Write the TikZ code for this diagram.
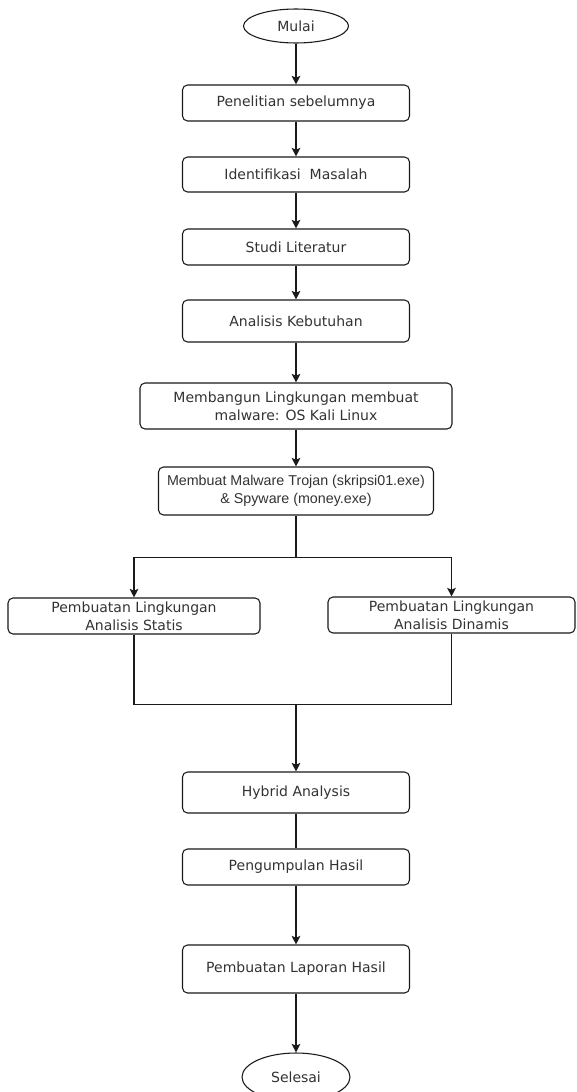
\documentclass[tikz,border=0pt]{standalone}
\usepackage{fontspec}
\setmainfont{DejaVu Sans}
\newfontfamily\arialfont{Liberation Sans}
\usetikzlibrary{arrows.meta,shapes.geometric}
\definecolor{txtc}{HTML}{333333}
\definecolor{linec}{HTML}{1A1A1A}
\begin{document}
\begin{tikzpicture}[x=0.75pt,y=-0.75pt,
  every node/.style={font=\fontsize{10.5pt}{13.5pt}\selectfont, text=txtc, inner sep=0pt, align=center},
  box/.style={draw=linec, line width=0.8pt, rounded corners=3.75pt, minimum width=170.25pt, minimum height=27pt},
  term/.style={draw=linec, line width=0.8pt, ellipse, minimum width=78.75pt, minimum height=25.5pt},
  conn/.style={draw=linec, line width=0.8pt},
  arr/.style={conn, -{Stealth[length=6.5pt,width=6.5pt,inset=1.5pt]}}]
\useasboundingbox (0,0) rectangle (576,1092);
\fill[white] (0,0) rectangle (576,1092);

\node[term] (mulai) at (296,26) {Mulai};
\node[box] (pen) at (296,103) {Penelitian sebelumnya};
\node[box, minimum height=26.25pt] (idm) at (296,174.5) {Identifikasi\ \ Masalah};
\node[box] (studi) at (296,247) {Studi Literatur};
\node[box, minimum height=31.5pt] (anak) at (296,321) {Analisis Kebutuhan};
\node[box, minimum width=234pt, minimum height=34.5pt] (bangun) at (296,406) {Membangun Lingkungan membuat\\malware: OS Kali Linux};
\node[box, minimum width=206.25pt, minimum height=36pt, font=\arialfont\fontsize{10.7pt}{13.5pt}\selectfont] (malware) at (296,491) {Membuat Malware Trojan (skripsi01.exe)\\\& Spyware (money.exe)};
\node[box, minimum width=189pt] (statis) at (134,616) {Pembuatan Lingkungan\\Analisis Statis};
\node[box, minimum width=185.25pt] (dinamis) at (451.5,615) {Pembuatan Lingkungan\\Analisis Dinamis};
\node[box, minimum height=30.75pt] (hybrid) at (296,792.5) {Hybrid Analysis};
\node[box] (kumpul) at (296,867) {Pengumpulan Hasil};
\node[box, minimum height=36pt] (lapor) at (296,969) {Pembuatan Laporan Hasil};
\node[term, minimum width=81pt, minimum height=36pt] (selesai) at (296,1077) {Selesai};

\draw[arr] (mulai) -- (pen);
\draw[arr] (pen) -- (idm);
\draw[arr] (idm) -- (studi);
\draw[arr] (studi) -- (anak);
\draw[arr] (anak) -- (bangun);
\draw[arr] (bangun) -- (malware);
\path (malware.south) ++(0,42) coordinate (split);
\draw[conn] (malware.south) -- (split);
\draw[arr] (split) -| (statis.north);
\draw[arr] (split) -| (dinamis.north);
\path (hybrid.north) ++(0,-67) coordinate (merge);
\draw[conn] (statis.south) |- (merge);
\draw[conn] (dinamis.south) |- (merge);
\draw[arr] (merge) -- (hybrid.north);
\draw[conn] (hybrid) -- (kumpul);
\draw[arr] (kumpul) -- (lapor);
\draw[arr] (lapor) -- (selesai);
\end{tikzpicture}
\end{document}
